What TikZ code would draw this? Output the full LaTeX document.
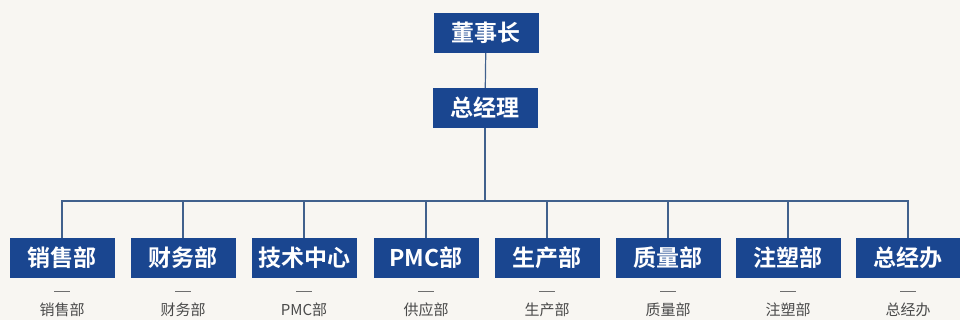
\documentclass[tikz,border=0pt]{standalone}
\usepackage{fontspec}
\usepackage{xcolor}
\usetikzlibrary{calc}
\newfontfamily\cjk{Noto Sans CJK SC}
\newfontfamily\cjkbold{Noto Sans CJK SC Bold}
\definecolor{boxblue}{HTML}{1A4690}
\definecolor{linkblue}{HTML}{41618D}
\definecolor{subgray}{HTML}{4A4A4A}
\definecolor{paper}{HTML}{F8F6F2}
\tikzset{
  unitbox/.style={fill=boxblue, text=white, minimum width=105pt, minimum height=40pt,
    inner sep=0pt, font=\cjkbold\fontsize{23}{23}\selectfont},
  link/.style={draw=linkblue, line width=1.2pt},
  subline/.style={draw=subgray!80, line width=1.3pt},
  sublabel/.style={text=subgray, inner sep=0pt, font=\cjk\fontsize{15}{15}\selectfont}
}
\newcommand{\dept}[4]{
\node[unitbox] (#1) at (#2, 62) {#3};
\coordinate (#1dash) at ($(#1.south) + (0, -13)$);
\draw[subline] ($(#1dash) + (-8, 0)$) -- ($(#1dash) + (8, 0)$);
\node[sublabel] (#1sub) at ($(#1.south) + (0, -32)$) {#4};
\draw[link] (gm.south) -- (gm.south |- bus) -| (#1.north);
}
\begin{document}
\begin{tikzpicture}[x=1pt, y=1pt]
\useasboundingbox[fill=paper] (0, 0) rectangle (960, 320);
\node[unitbox] (chair) at (486, 287) {董事长};
\node[unitbox] (gm) at (485, 212) {总经理};
\draw[link] (chair) -- (gm);
\coordinate (bus) at (486, 119);
\dept{sales}{62}{销售部}{销售部}
\dept{finance}{183}{财务部}{财务部}
\dept{tech}{304}{技术中心}{PMC部}
\dept{pmc}{426}{PMC部}{供应部}
\dept{prod}{547}{生产部}{生产部}
\dept{quality}{668}{质量部}{质量部}
\dept{molding}{788}{注塑部}{注塑部}
\dept{office}{908}{总经办}{总经办}
\end{tikzpicture}
\end{document}
